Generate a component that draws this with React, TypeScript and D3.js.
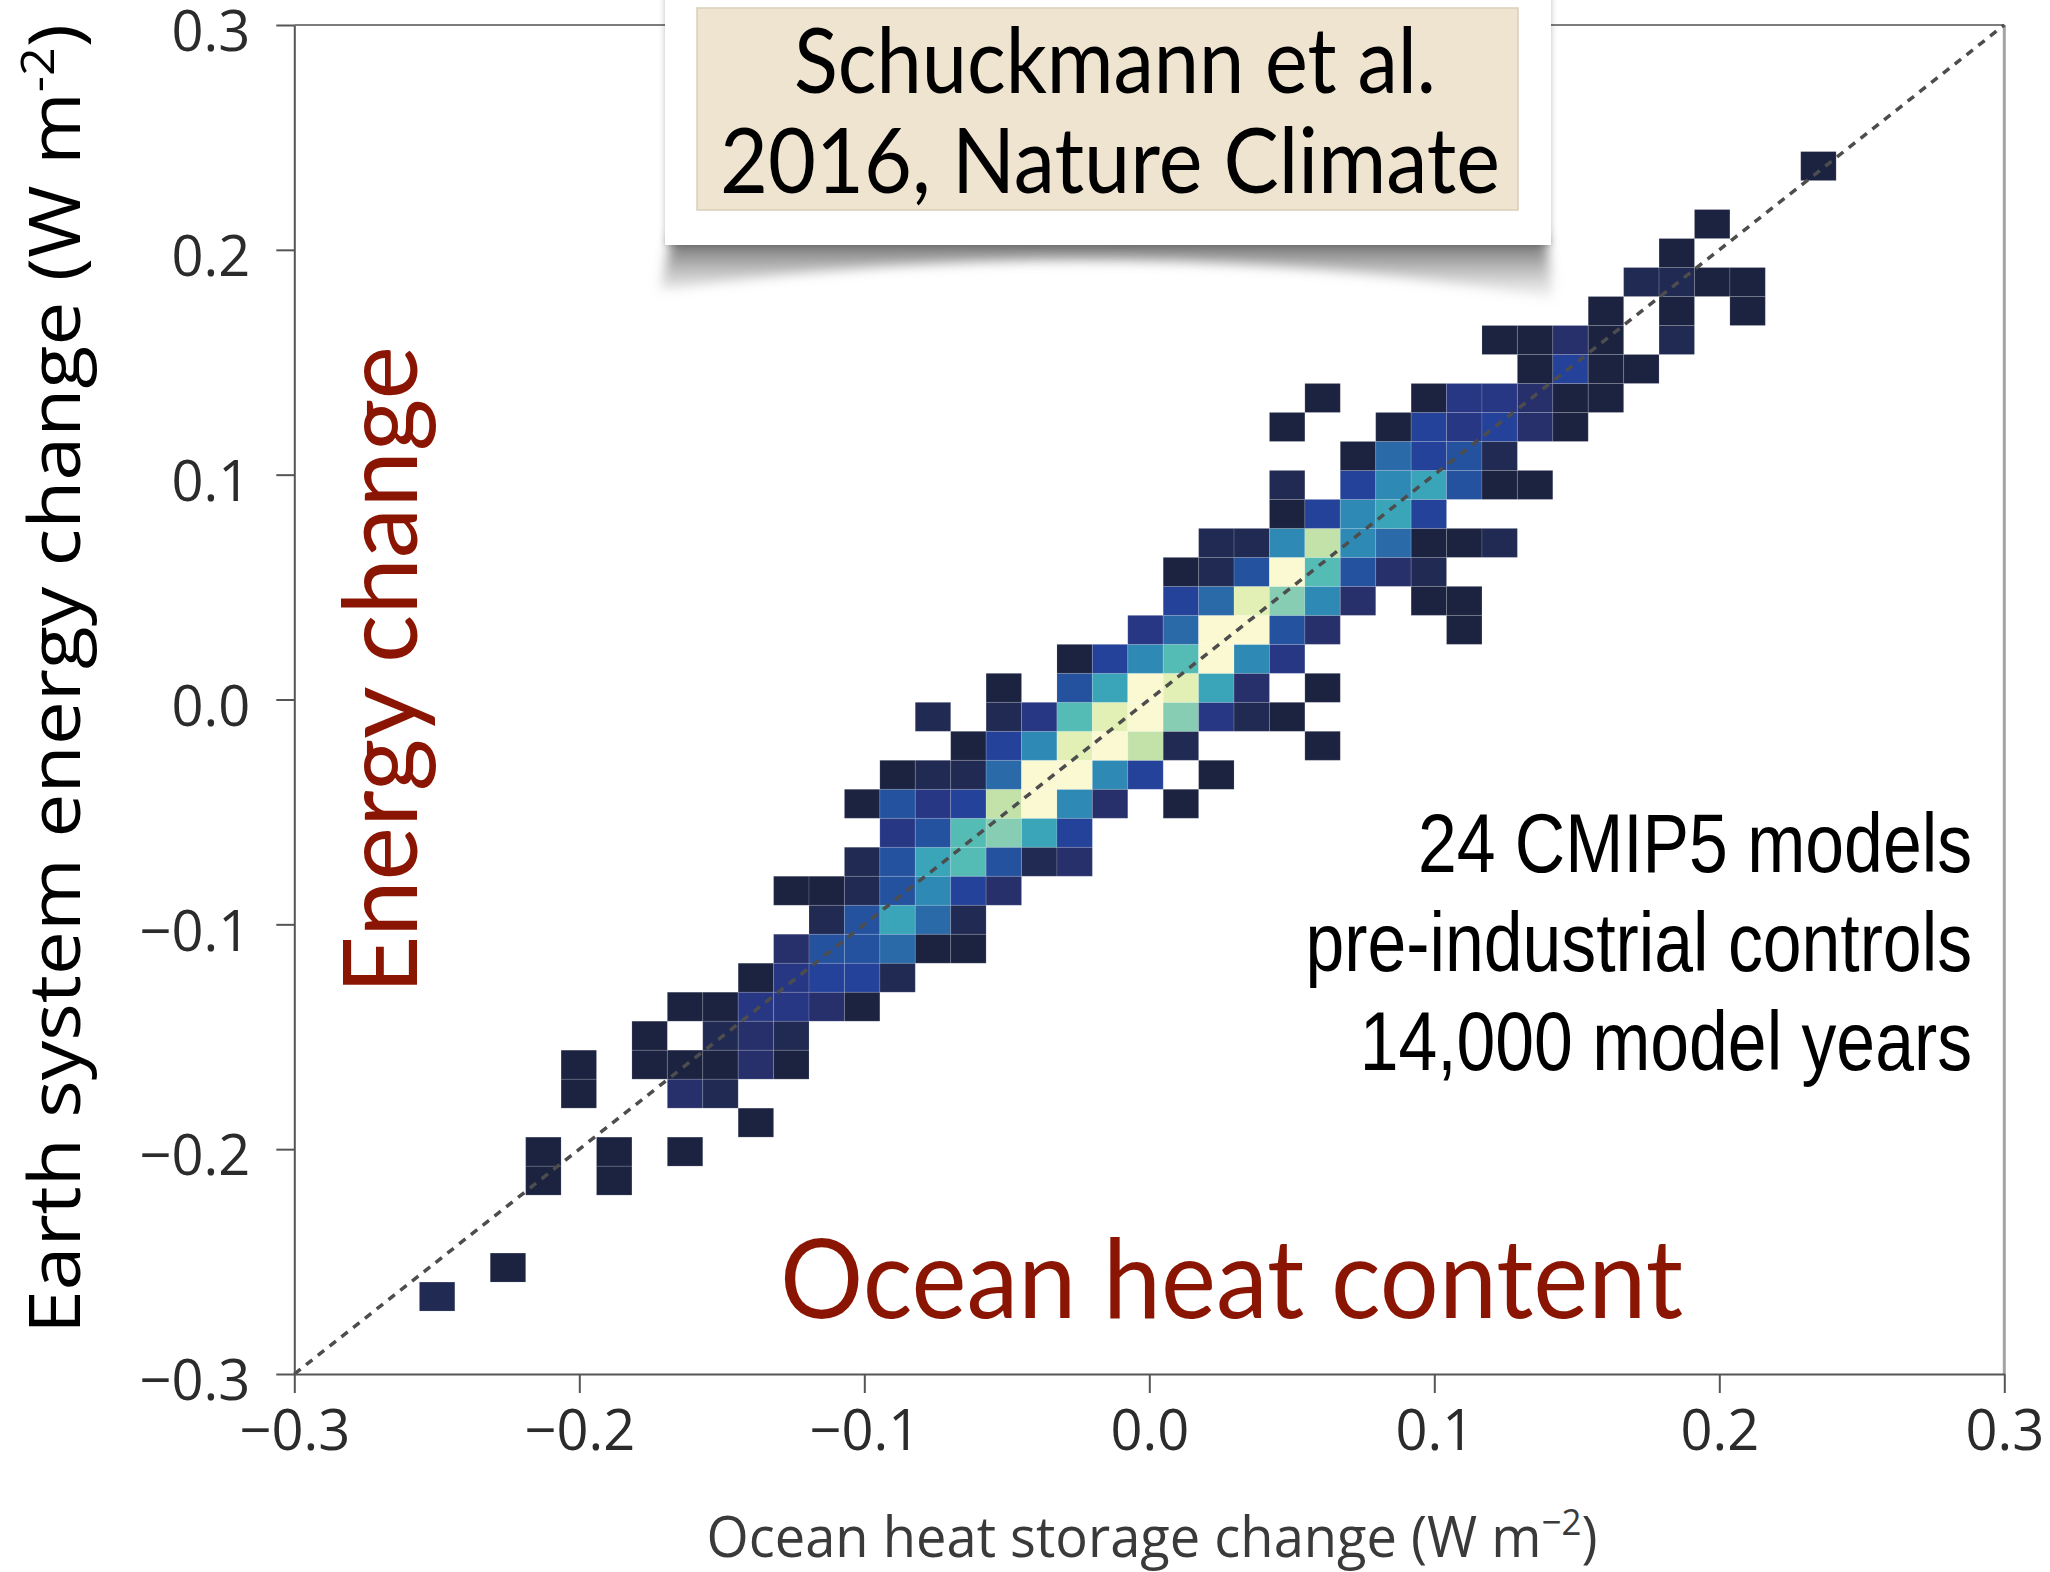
import * as d3 from "d3";
import { useEffect, useRef } from "react";

// 2D histogram, 40 x 40 bins spanning the range of the data (W m-2)
const xBinRange = [-0.2561, 0.241];
const yBinRange = [-0.272, 0.2437];
const binCount = 40;

// model years per bin, one row per y bin (bottom to top);
// each row starts at column rowStart[r], 0 = empty bin
const rowStart = [
  0, 2, 0, 0, 3, 3, 9, 4, 4, 6,
  7, 9, 10, 11, 10, 12, 13, 12, 13, 15,
  14, 16, 18, 20, 21, 21, 22, 24, 24, 26,
  24, 25, 31, 30, 33, 34, 35, 36, 0, 39,
];
const rowCounts = [
  [2],
  [1],
  [],
  [],
  [1, 0, 1],
  [1, 0, 1, 0, 1],
  [1],
  [1, 0, 0, 3, 2],
  [1, 0, 1, 1, 1, 3, 1],
  [1, 0, 2, 3, 2],
  [1, 1, 5, 5, 3, 1],
  [1, 5, 8, 8, 2],
  [3, 13, 13, 22, 1, 1],
  [2, 13, 61, 22, 2],
  [1, 1, 2, 13, 37, 8, 3],
  [2, 13, 61, 102, 13, 2, 3],
  [5, 13, 102, 171, 61, 8],
  [1, 13, 5, 8, 286, 800, 37, 3, 0, 1],
  [1, 2, 2, 22, 800, 800, 37, 8, 0, 1],
  [1, 8, 37, 478, 800, 286, 2, 0, 0, 0, 1],
  [2, 0, 2, 5, 102, 478, 800, 171, 5, 2, 1],
  [1, 0, 13, 61, 800, 478, 61, 3, 0, 1],
  [1, 8, 37, 102, 800, 37, 5],
  [5, 22, 800, 800, 13, 3, 0, 0, 0, 1],
  [8, 22, 478, 171, 37, 3, 0, 1, 1],
  [1, 2, 13, 800, 102, 13, 3, 2],
  [2, 2, 37, 286, 37, 22, 1, 1, 2],
  [1, 8, 37, 61, 8],
  [2, 0, 8, 37, 61, 13, 1, 1],
  [1, 22, 8, 13, 2],
  [1, 0, 0, 1, 8, 5, 8, 3, 1],
  [1, 0, 0, 1, 5, 5, 3, 1, 1],
  [1, 8, 1, 1],
  [1, 1, 3, 1, 0, 2],
  [1, 0, 1, 0, 1],
  [2, 2, 1, 1],
  [1],
  [1],
  [],
  [1],
];

const axisTicks = [-0.3, -0.2, -0.1, 0, 0.1, 0.2, 0.3];
const colorStops = [1, 2, 3, 5, 8, 13, 22, 37, 61, 102, 171, 286, 478, 800];
const palette = [
  "#1b2341", "#212a52", "#27306a", "#283784", "#25429a", "#24529f", "#2a6aa8",
  "#2e8ab4", "#3aa4b8", "#55bcb5", "#86cdb3", "#c2e2aa", "#e3f0b5", "#fbf9d2",
];

const sourceLines = ["Schuckmann et al.", "2016, Nature Climate"];
const infoLines = ["24 CMIP5 models", "pre-industrial controls", "14,000 model years"];

const W = 2050;
const H = 1572;
const plot = { left: 294.3, right: 2004.3, top: 25, bottom: 1374 };
const red = "#8a1503";
const humanist = "Lato, 'Open Sans', sans-serif";
const axisFont = "'Open Sans', 'Noto Sans', sans-serif";

const App = () => {
  const ref = useRef<SVGSVGElement | null>(null);

  useEffect(() => {
    if (!ref.current) return;

    const x = d3.scaleLinear().domain([-0.3, 0.3]).range([plot.left, plot.right]);
    const y = d3.scaleLinear().domain([-0.3, 0.3]).range([plot.bottom, plot.top]);

    const xEdges = d3.range(binCount + 1).map(
      (i) => xBinRange[0] + (i * (xBinRange[1] - xBinRange[0])) / binCount
    );
    const yEdges = d3.range(binCount + 1).map(
      (i) => yBinRange[0] + (i * (yBinRange[1] - yBinRange[0])) / binCount
    );

    const cells = rowCounts.flatMap((counts, row) =>
      counts
        .map((n, i) => ({ col: rowStart[row] + i, row, n }))
        .filter((d) => d.n > 0)
    );

    const color = d3
      .scaleLog<string>()
      .domain(colorStops)
      .range(palette)
      .interpolate(d3.interpolateRgb)
      .clamp(true);

    const svg = d3.select(ref.current);
    svg.selectAll("*").remove();
    svg.attr("width", W).attr("height", H).attr("viewBox", `0 0 ${W} ${H}`);

    const defs = svg.append("defs");
    defs
      .append("filter")
      .attr("id", "blur")
      .attr("x", "-10%")
      .attr("y", "-50%")
      .attr("width", "120%")
      .attr("height", "200%")
      .append("feGaussianBlur")
      .attr("stdDeviation", 6);
    defs
      .append("filter")
      .attr("id", "cardShadow")
      .attr("x", "-5%")
      .attr("y", "-5%")
      .attr("width", "110%")
      .attr("height", "110%")
      .append("feDropShadow")
      .attr("dx", 0)
      .attr("dy", 0)
      .attr("stdDeviation", 3)
      .attr("flood-color", "#000")
      .attr("flood-opacity", 0.25);
    const grad = defs
      .append("linearGradient")
      .attr("id", "shadowGrad")
      .attr("x1", 0)
      .attr("y1", 0)
      .attr("x2", 0)
      .attr("y2", 1);
    grad.append("stop").attr("offset", "0%").attr("stop-color", "#5e5e5e").attr("stop-opacity", 1);
    grad.append("stop").attr("offset", "100%").attr("stop-color", "#9a9a9a").attr("stop-opacity", 0.1);

    svg.append("rect").attr("width", W).attr("height", H).attr("fill", "#fff");

    // top and right frame
    svg
      .append("line")
      .attr("x1", plot.left)
      .attr("x2", plot.right)
      .attr("y1", plot.top)
      .attr("y2", plot.top)
      .attr("stroke", "#7d7d7d")
      .attr("stroke-width", 2);
    svg
      .append("line")
      .attr("x1", plot.right)
      .attr("x2", plot.right)
      .attr("y1", plot.top)
      .attr("y2", plot.bottom)
      .attr("stroke", "#a3a3a3")
      .attr("stroke-width", 3);

    // histogram cells
    svg
      .append("g")
      .selectAll("rect")
      .data(cells)
      .join("rect")
      .attr("x", (d) => x(xEdges[d.col]))
      .attr("y", (d) => y(yEdges[d.row + 1]))
      .attr("width", (d) => x(xEdges[d.col + 1]) - x(xEdges[d.col]))
      .attr("height", (d) => y(yEdges[d.row]) - y(yEdges[d.row + 1]))
      .attr("fill", (d) => color(d.n))
      .attr("stroke", "rgba(255,255,255,0.14)")
      .attr("stroke-width", 1);

    // 1:1 line
    svg
      .append("line")
      .attr("x1", x(-0.3))
      .attr("y1", y(-0.3))
      .attr("x2", x(0.3))
      .attr("y2", y(0.3))
      .attr("stroke", "#4d4d4d")
      .attr("stroke-width", 3.5)
      .attr("stroke-dasharray", "8 7");

    const fmt = d3.format(".1f");

    const gx = svg
      .append("g")
      .attr("transform", `translate(0,${plot.bottom})`)
      .call(
        d3.axisBottom(x).tickValues(axisTicks).tickFormat((d) => fmt(d as number))
          .tickSize(19).tickSizeOuter(0).tickPadding(17)
      );
    const gy = svg
      .append("g")
      .attr("transform", `translate(${plot.left},0)`)
      .call(
        d3.axisLeft(y).tickValues(axisTicks).tickFormat((d) => fmt(d as number))
          .tickSize(18).tickSizeOuter(0).tickPadding(26)
      );
    [gx, gy].forEach((g) => {
      g.attr("font-family", null).attr("font-size", null);
      g.select(".domain").attr("stroke", "#555").attr("stroke-width", 2);
      g.selectAll(".tick line").attr("stroke", "#555").attr("stroke-width", 2);
      g.selectAll(".tick text")
        .attr("font-family", axisFont)
        .attr("font-size", 56)
        .attr("fill", "#2b2b2b");
    });
    gy.selectAll(".tick text").attr("dy", "0.46em");

    // axis titles
    const yTitle = svg
      .append("text")
      .attr("transform", "translate(80,679) rotate(-90)")
      .attr("text-anchor", "middle")
      .attr("font-family", axisFont)
      .attr("font-size", 72)
      .attr("fill", "#000")
      .attr("textLength", 1310)
      .attr("lengthAdjust", "spacingAndGlyphs");
    yTitle.append("tspan").text("Earth system energy change (W m");
    yTitle.append("tspan").attr("dy", -26).attr("font-size", 46).text("-2");
    yTitle.append("tspan").attr("dy", 26).text(")");

    const xTitle = svg
      .append("text")
      .attr("x", 1152)
      .attr("y", 1557)
      .attr("text-anchor", "middle")
      .attr("font-family", axisFont)
      .attr("font-size", 56)
      .attr("fill", "#3a3a3a")
      .attr("textLength", 891)
      .attr("lengthAdjust", "spacingAndGlyphs");
    xTitle.append("tspan").text("Ocean heat storage change (W m");
    xTitle.append("tspan").attr("dy", -22).attr("font-size", 36).text("\u22122");
    xTitle.append("tspan").attr("dy", 22).text(")");

    // annotations
    svg
      .append("text")
      .attr("transform", "translate(417,670) rotate(-90)")
      .attr("text-anchor", "middle")
      .attr("font-family", humanist)
      .attr("font-size", 102)
      .attr("fill", red)
      .attr("textLength", 648)
      .attr("lengthAdjust", "spacingAndGlyphs")
      .text("Energy change");
    svg
      .append("text")
      .attr("x", 780)
      .attr("y", 1318)
      .attr("font-family", humanist)
      .attr("font-size", 110)
      .attr("fill", red)
      .attr("textLength", 903)
      .attr("lengthAdjust", "spacingAndGlyphs")
      .text("Ocean heat content");

    // narrow right-aligned note: Liberation Sans squeezed horizontally
    svg
      .append("g")
      .selectAll("text")
      .data(infoLines)
      .join("text")
      .attr("transform", (_, i) => `translate(1972,${872 + i * 99}) scale(0.83,1)`)
      .attr("text-anchor", "end")
      .attr("font-family", "'Liberation Sans', Arial, sans-serif")
      .attr("font-size", 84)
      .attr("fill", "#000")
      .text((d) => d);

    // source card with curled shadow
    svg
      .append("path")
      .attr("d", "M672,236 L1546,236 L1553,298 Q1110,226 660,290 Z")
      .attr("fill", "url(#shadowGrad)")
      .attr("filter", "url(#blur)");
    svg
      .append("rect")
      .attr("x", 665)
      .attr("y", -10)
      .attr("width", 886)
      .attr("height", 255)
      .attr("fill", "#fff")
      .attr("filter", "url(#cardShadow)");
    svg
      .append("rect")
      .attr("x", 697)
      .attr("y", 8)
      .attr("width", 821)
      .attr("height", 202)
      .attr("fill", "#efe4cf")
      .attr("stroke", "#d9cfbb")
      .attr("stroke-width", 1.5);
    const sourceCenters = [1115, 1110];
    const sourceWidths = [642, 780];
    svg
      .append("g")
      .selectAll("text")
      .data(sourceLines)
      .join("text")
      .attr("x", (_, i) => sourceCenters[i])
      .attr("y", (_, i) => 93 + i * 100)
      .attr("text-anchor", "middle")
      .attr("font-family", humanist)
      .attr("font-size", 92)
      .attr("fill", "#000")
      .attr("textLength", (_, i) => sourceWidths[i])
      .attr("lengthAdjust", "spacingAndGlyphs")
      .text((d) => d);
  }, []);

  return (
    <svg
      ref={ref}
      style={{ position: "absolute", left: 0, top: 0, display: "block" }}
    />
  );
};

export default App;
